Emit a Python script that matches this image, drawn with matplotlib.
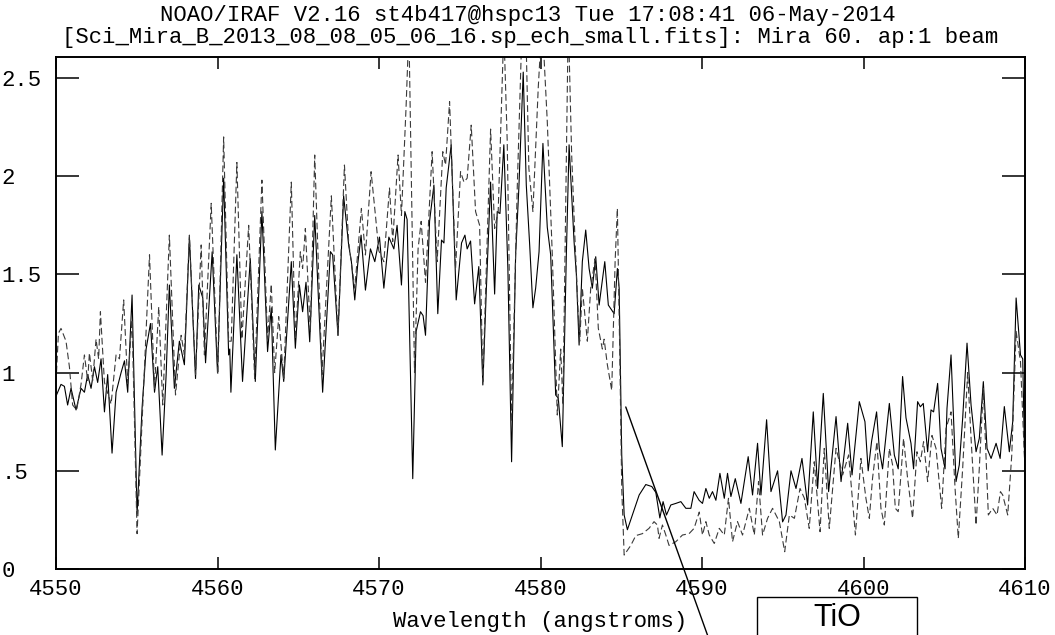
import numpy as np
import matplotlib
matplotlib.use("Agg")
import matplotlib.pyplot as plt
from matplotlib.patches import Rectangle

# spectrum 1 (solid) : wavelength (A), flux
solid_wave = [
    4550.00, 4550.31, 4550.52, 4550.72, 4550.93, 4551.24, 4551.55, 4551.76, 4551.96, 4552.17,
    4552.38, 4552.58, 4552.79, 4553.00, 4553.20, 4553.47, 4553.72, 4554.03, 4554.24, 4554.44,
    4554.71, 4555.02, 4555.33, 4555.58, 4555.85, 4556.10, 4556.30, 4556.57, 4556.82, 4557.02,
    4557.33, 4557.64, 4557.95, 4558.26, 4558.64, 4558.84, 4559.09, 4559.26, 4559.67, 4560.00,
    4560.38, 4560.69, 4560.76, 4560.83, 4561.20, 4561.55, 4562.03, 4562.34, 4562.75, 4563.10,
    4563.33, 4563.58, 4563.93, 4564.10, 4564.57, 4564.82, 4565.07, 4565.27, 4565.48, 4565.71,
    4566.02, 4566.51, 4566.99, 4567.13, 4567.46, 4567.81, 4568.12, 4568.29, 4568.50, 4568.68,
    4568.89, 4569.16, 4569.47, 4569.74, 4570.03, 4570.30, 4570.61, 4570.92, 4571.12, 4571.39,
    4571.60, 4571.74, 4572.09, 4572.30, 4572.57, 4572.73, 4572.88, 4573.13, 4573.40, 4573.64,
    4573.87, 4574.02, 4574.16, 4574.47, 4574.78, 4575.11, 4575.32, 4575.46, 4575.67, 4575.92,
    4576.18, 4576.43, 4576.64, 4576.91, 4577.16, 4577.32, 4577.49, 4577.73, 4577.98, 4578.21,
    4578.46, 4578.66, 4578.93, 4579.12, 4579.33, 4579.53, 4579.70, 4579.91, 4580.15, 4580.42,
    4580.63, 4580.94, 4581.10, 4581.35, 4581.60, 4581.77, 4582.08, 4582.22, 4582.39, 4582.59,
    4582.80, 4583.01, 4583.21, 4583.42, 4583.63, 4583.98, 4584.20, 4584.56, 4584.76, 4584.87,
    4585.03, 4585.18, 4585.38, 4585.69, 4586.11, 4586.52, 4586.89, 4587.14, 4587.39, 4587.59,
    4587.80, 4588.07, 4588.38, 4588.69, 4589.00, 4589.31, 4589.51, 4589.82, 4590.03, 4590.24,
    4590.45, 4590.65, 4590.86, 4591.11, 4591.38, 4591.58, 4591.79, 4592.06, 4592.41, 4592.86,
    4593.13, 4593.44, 4593.65, 4594.00, 4594.27, 4594.68, 4594.99, 4595.20, 4595.51, 4595.82,
    4596.19, 4596.54, 4596.89, 4597.16, 4597.51, 4597.84, 4598.30, 4598.61, 4599.02, 4599.29,
    4599.74, 4600.09, 4600.29, 4600.50, 4600.81, 4600.98, 4601.18, 4601.60, 4601.91, 4602.15,
    4602.42, 4602.63, 4602.94, 4603.10, 4603.35, 4603.52, 4603.70, 4603.97, 4604.18, 4604.34,
    4604.59, 4604.80, 4605.05, 4605.17, 4605.42, 4605.73, 4605.93, 4606.14, 4606.41, 4606.66,
    4606.97, 4607.17, 4607.42, 4607.65, 4607.90, 4608.21, 4608.46, 4608.72, 4609.03, 4609.24,
    4609.45, 4609.72, 4609.86, 4610.01, 4610.07,
]
solid_flux = [
    0.88, 0.94, 0.93, 0.835, 0.92, 0.81, 0.92, 0.90, 0.99, 0.92,
    1.03, 0.95, 1.07, 0.80, 0.99, 0.59, 0.90, 1.00, 1.06, 0.90,
    1.395, 0.28, 0.82, 1.12, 1.25, 0.90, 1.03, 0.58, 0.99, 1.446,
    0.92, 1.16, 1.04, 1.69, 0.97, 1.446, 1.38, 1.05, 1.615, 1.00,
    1.99, 1.09, 1.12, 0.90, 1.60, 0.955, 1.58, 0.955, 1.82, 1.107,
    1.33, 0.606, 1.09, 0.955, 1.565, 1.124, 1.446, 1.31, 1.46, 1.157,
    1.80, 0.90, 1.616, 1.60, 1.19, 1.90, 1.65, 1.565, 1.37, 1.55,
    1.70, 1.42, 1.63, 1.565, 1.69, 1.43, 1.69, 1.63, 1.75, 1.446,
    1.82, 1.78, 0.46, 1.21, 1.31, 1.29, 1.19, 1.77, 1.955, 1.30,
    1.675, 1.66, 1.94, 2.16, 1.37, 1.66, 1.70, 1.63, 1.67, 1.35,
    1.54, 0.937, 1.41, 1.97, 1.40, 1.82, 1.81, 2.16, 1.53, 0.546,
    1.60, 1.94, 2.53, 1.955, 1.65, 1.33, 1.43, 1.615, 2.167, 1.74,
    1.60, 0.886, 0.87, 0.623, 1.60, 2.16, 1.665, 1.50, 1.14, 1.565,
    1.726, 1.53, 1.43, 1.59, 1.344, 1.565, 1.344, 1.30, 1.53, 1.43,
    0.58, 0.275, 0.20, 0.275, 0.377, 0.43, 0.42, 0.39, 0.26, 0.343,
    0.275, 0.326, 0.334, 0.343, 0.309, 0.309, 0.394, 0.35, 0.334, 0.41,
    0.36, 0.394, 0.35, 0.487, 0.36, 0.487, 0.369, 0.46, 0.334, 0.572,
    0.377, 0.64, 0.377, 0.76, 0.394, 0.50, 0.24, 0.275, 0.50, 0.41,
    0.563, 0.326, 0.80, 0.41, 0.894, 0.394, 0.776, 0.445, 0.742, 0.479,
    0.852, 0.75, 0.50, 0.65, 0.80, 0.61, 0.51, 0.843, 0.58, 0.51,
    0.98, 0.77, 0.64, 0.51, 0.852, 0.826, 0.843, 0.597, 0.81, 0.80,
    0.945, 0.614, 0.51, 0.818, 1.09, 0.445, 0.53, 0.767, 1.15, 0.835,
    0.597, 0.665, 0.954, 0.614, 0.563, 0.64, 0.563, 0.827, 0.597, 0.75,
    1.38, 1.09, 1.07, 0.41, 0.377,
]

# spectrum 2 (dashed)
dash_wave = [
    4550.00, 4550.15, 4550.31, 4550.62, 4550.83, 4551.03, 4551.28, 4551.55, 4551.76, 4551.96,
    4552.07, 4552.27, 4552.48, 4552.64, 4552.75, 4553.00, 4553.41, 4553.72, 4553.93, 4554.19,
    4554.44, 4554.71, 4555.02, 4555.37, 4555.79, 4556.10, 4556.36, 4556.61, 4557.02, 4557.40,
    4557.75, 4557.95, 4558.26, 4558.64, 4558.99, 4559.19, 4559.61, 4560.02, 4560.38, 4560.69,
    4560.85, 4561.20, 4561.51, 4561.93, 4562.30, 4562.75, 4563.10, 4563.33, 4563.54, 4563.79,
    4564.10, 4564.57, 4564.82, 4565.13, 4565.27, 4565.44, 4565.75, 4566.02, 4566.47, 4567.05,
    4567.46, 4567.86, 4568.12, 4568.50, 4568.91, 4569.16, 4569.51, 4569.78, 4569.99, 4570.30,
    4570.65, 4570.85, 4571.18, 4571.39, 4571.68, 4571.85, 4572.20, 4572.42, 4572.61, 4572.88,
    4573.29, 4573.60, 4573.95, 4574.12, 4574.37, 4574.74, 4575.05, 4575.26, 4575.46, 4575.71,
    4575.98, 4576.23, 4576.43, 4576.91, 4577.16, 4577.38, 4577.73, 4577.94, 4578.21, 4578.56,
    4578.87, 4579.08, 4579.28, 4579.53, 4579.86, 4580.10, 4580.42, 4580.73, 4581.04, 4581.25,
    4581.39, 4581.60, 4581.72, 4581.93, 4582.14, 4582.34, 4582.43, 4582.59, 4582.90, 4583.11,
    4583.38, 4583.58, 4583.83, 4583.94, 4584.14, 4584.41, 4584.62, 4584.76, 4584.91, 4585.03,
    4585.18, 4585.32, 4585.59, 4585.90, 4586.31, 4586.72, 4587.03, 4587.24, 4587.34, 4587.55,
    4587.76, 4587.96, 4588.38, 4588.79, 4589.20, 4589.51, 4589.83, 4590.03, 4590.24, 4590.45,
    4590.76, 4591.07, 4591.38, 4591.64, 4591.89, 4592.20, 4592.51, 4592.93, 4593.24, 4593.50,
    4593.75, 4594.06, 4594.37, 4594.79, 4595.12, 4595.41, 4595.72, 4596.07, 4596.34, 4596.64,
    4596.95, 4597.31, 4597.57, 4597.88, 4598.30, 4598.71, 4599.08, 4599.50, 4599.84, 4600.15,
    4600.36, 4600.56, 4600.83, 4601.08, 4601.29, 4601.60, 4601.80, 4601.97, 4602.15, 4602.48,
    4602.73, 4603.04, 4603.31, 4603.52, 4603.72, 4603.97, 4604.24, 4604.49, 4604.84, 4605.11,
    4605.42, 4605.67, 4605.87, 4606.14, 4606.45, 4606.66, 4606.97, 4607.17, 4607.42, 4607.73,
    4608.00, 4608.27, 4608.48, 4608.62, 4608.93, 4609.18, 4609.45, 4609.72, 4609.96, 4610.07,
]
dash_flux = [
    0.95, 1.20, 1.225, 1.16, 1.03, 0.835, 0.81, 0.94, 1.09, 0.96,
    1.10, 0.96, 1.17, 1.07, 1.31, 0.95, 0.84, 1.09, 1.07, 1.37,
    0.945, 1.27, 0.18, 0.82, 1.60, 0.92, 1.335, 0.835, 1.70, 0.886,
    1.19, 1.09, 1.70, 0.99, 1.65, 1.09, 1.862, 0.99, 2.20, 1.16,
    1.16, 2.07, 1.17, 1.75, 0.97, 1.98, 1.17, 1.45, 1.00, 1.285,
    0.97, 1.97, 1.17, 1.615, 1.53, 1.734, 1.21, 2.108, 0.99, 1.90,
    1.19, 2.057, 1.665, 1.43, 1.836, 1.599, 2.023, 1.80, 1.62, 1.565,
    1.94, 1.667, 2.108, 1.80, 2.36, 2.75, 1.00, 1.63, 1.77, 1.46,
    2.125, 1.565, 2.125, 2.057, 2.38, 1.53, 2.023, 1.97, 1.99, 2.26,
    1.82, 1.75, 0.954, 2.24, 1.734, 1.82, 2.75, 2.176, 0.75, 1.94,
    2.80, 2.80, 2.04, 1.82, 2.45, 2.80, 2.278, 1.60, 0.784, 1.12,
    0.835, 2.108, 2.80, 2.108, 1.667, 1.29, 1.16, 1.43, 1.16, 1.43,
    1.58, 1.225, 1.12, 1.17, 1.04, 0.91, 1.565, 1.836, 1.09, 0.41,
    0.071, 0.088, 0.12, 0.17, 0.18, 0.207, 0.241, 0.224, 0.156, 0.224,
    0.173, 0.12, 0.139, 0.173, 0.18, 0.207, 0.29, 0.173, 0.241, 0.173,
    0.13, 0.207, 0.173, 0.36, 0.139, 0.241, 0.173, 0.309, 0.173, 0.445,
    0.173, 0.258, 0.309, 0.241, 0.088, 0.275, 0.258, 0.41, 0.36, 0.207,
    0.546, 0.19, 0.614, 0.207, 0.614, 0.479, 0.581, 0.173, 0.563, 0.36,
    0.258, 0.462, 0.648, 0.309, 0.224, 0.614, 0.53, 0.309, 0.292, 0.665,
    0.462, 0.258, 0.597, 0.546, 0.648, 0.445, 0.68, 0.614, 0.309, 0.716,
    0.80, 0.41, 0.156, 0.512, 1.00, 0.665, 0.224, 0.512, 0.92, 0.275,
    0.309, 0.275, 0.394, 0.377, 0.275, 0.58, 1.21, 1.055, 0.58, 0.377,
]

x_ticks = [4550, 4560, 4570, 4580, 4590, 4600, 4610]
y_ticks = [0, 0.5, 1, 1.5, 2, 2.5]
y_ticklabels = ["0", ".5", "1", "1.5", "2", "2.5"]

title1 = "NOAO/IRAF V2.16 st4b417@hspc13 Tue 17:08:41 06-May-2014"
title2 = "[Sci_Mira_B_2013_08_08_05_06_16.sp_ech_small.fits]: Mira 60. ap:1 beam"
xlabel = "Wavelength (angstroms)"
band_label = "TiO"

W, H = 1055, 635
plt.rcParams["font.family"] = ["Liberation Mono", "DejaVu Sans Mono"]
plt.rcParams["font.size"] = 16

fig = plt.figure(figsize=(W / 100, H / 100), dpi=100)
ax = fig.add_axes([56 / W, 1 - 569 / H, (1025 - 56) / W, (569 - 57) / H])

ax.plot(solid_wave, solid_flux, color="black", lw=0.8)
ax.plot(dash_wave, dash_flux, color="#3a3a3a", lw=0.8, dashes=(6, 3))

ax.set_xlim(4550, 4610)
ax.set_ylim(0, 2.607)

ax.set_xticks(x_ticks)
ax.set_yticks(y_ticks)
ax.set_yticklabels(y_ticklabels)
ax.tick_params(axis="x", direction="in", length=8.6, width=1.1, top=True, pad=7)
ax.tick_params(axis="y", direction="in", length=16.5, width=1.1, right=True, pad=39)
for lab in ax.get_yticklabels():
    lab.set_horizontalalignment("left")
for sp in ax.spines.values():
    sp.set_linewidth(1.4)

fig.text(528 / W, 1 - 15 / H, title1, ha="center", va="center")
fig.text(530 / W, 1 - 38 / H, title2, ha="center", va="center")
fig.text(540 / W, 1 - 621 / H, xlabel, ha="center", va="center")

# TiO band head pointer and label box (box runs off the bottom edge)
ax.annotate("", xy=(4585.28, 0.825), xycoords="data",
            xytext=(712 / W, -0.02), textcoords="figure fraction",
            arrowprops=dict(arrowstyle="-", color="black", lw=1.0,
                            shrinkA=0, shrinkB=0))
fig.patches.append(Rectangle((757 / W, -0.05), 160 / W, 0.05 + 38 / H,
                             transform=fig.transFigure, fill=False,
                             ec="black", lw=1.0))
fig.text(837 / W, 1.5 / H, band_label, ha="center", va="bottom",
         family="Liberation Sans", fontsize=22)

fig.savefig("out.png", dpi=100)
